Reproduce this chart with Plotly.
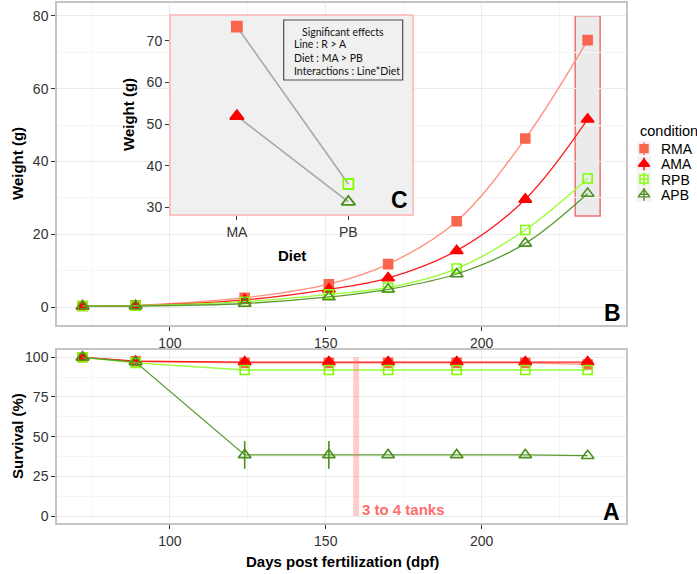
import plotly.graph_objects as go

# ---------------- data ----------------
days = [72, 89, 124, 151, 170, 192, 214, 234]

weight_RMA = [0.3, 0.5, 2.6, 6.3, 11.8, 23.6, 46.3, 73.3]
weight_AMA = [0.2, 0.4, 2.0, 4.9, 8.0, 15.5, 29.6, 51.6]
weight_RPB = [0.3, 0.4, 1.5, 3.5, 5.4, 10.6, 21.2, 35.3]
weight_APB = [0.3, 0.3, 1.0, 2.8, 4.9, 9.1, 17.5, 31.2]

surv_RMA = [100, 97.5, 96.5, 96.5, 96.5, 96.5, 96.5, 95.5]
surv_AMA = [100, 97.5, 97, 97, 97, 97, 97, 97]
surv_RPB = [100, 96.5, 92, 92, 92, 92, 92, 92]
surv_APB = [100, 97, 38.5, 38.5, 38.5, 38.5, 38.5, 38]
surv_APB_err = [0, 0, 8.7, 8.7, 0, 0, 0, 0]

diets = ["MA", "PB"]
final_R = [73.4, 35.6]
final_A = [51.9, 31.3]

conditions = ["RMA", "AMA", "RPB", "APB"]
weight_tick_vals = [0, 20, 40, 60, 80]
surv_tick_vals = [0, 25, 50, 75, 100]
inset_tick_vals = [30, 40, 50, 60, 70]
effects_lines = ["Line : R > A", "Diet : MA > PB", "Interactions : Line*Diet"]

# ---------------- styles ----------------
W, H = 697, 574
FONT = "Liberation Sans, Arial, sans-serif"
marker_col = {"RMA": "#F9664E", "AMA": "#FF0000", "RPB": "#7FFF00", "APB": "#4B8F1D"}
line_col = {"RMA": "#FF8E7A", "AMA": "#FF1A1A", "RPB": "#95FF33", "APB": "#5A9A30"}
symbols = {"RMA": "square", "AMA": "triangle-up", "RPB": "square-open", "APB": "triangle-up-open"}
msize = {"RMA": 9, "AMA": 11, "RPB": 9, "APB": 11}
weights = {"RMA": weight_RMA, "AMA": weight_AMA, "RPB": weight_RPB, "APB": weight_APB}
survs = {"RMA": surv_RMA, "AMA": surv_AMA, "RPB": surv_RPB, "APB": surv_APB}


def px(x):
    return x / W


def py(y):
    return 1 - y / H


fig = go.Figure()

# top panel: weight growth curves
for c in conditions:
    fig.add_trace(go.Scatter(
        x=days, y=weights[c], name=c, mode="lines+markers",
        line=dict(color=line_col[c], width=1.3, shape="spline", smoothing=1.0),
        marker=dict(symbol=symbols[c], size=msize[c], color=marker_col[c],
                    line=dict(color=marker_col[c], width=1.6)),
        xaxis="x", yaxis="y",
    ))

# bottom panel: survival
for c in conditions:
    err = surv_APB_err if c == "APB" else [0] * len(days)
    fig.add_trace(go.Scatter(
        x=days, y=survs[c], name=c, mode="lines+markers",
        line=dict(color=line_col[c], width=1.3),
        marker=dict(symbol=symbols[c], size=msize[c], color=marker_col[c],
                    line=dict(color=marker_col[c], width=1.6)),
        error_y=dict(type="data", array=err, visible=True, color=marker_col[c],
                     thickness=1.6, width=0),
        xaxis="x2", yaxis="y2",
    ))

# inset: final weights by diet
for c_ma, c_pb, vals in [("RMA", "RPB", final_R), ("AMA", "APB", final_A)]:
    fig.add_trace(go.Scatter(
        x=diets, y=vals, mode="lines", line=dict(color="#A8A8A8", width=1.6),
        xaxis="x3", yaxis="y3", hoverinfo="skip",
    ))
    for i, c in enumerate([c_ma, c_pb]):
        fig.add_trace(go.Scatter(
            x=[diets[i]], y=[vals[i]], mode="markers", name=c,
            marker=dict(symbol=symbols[c], size=msize[c] + 1, color=marker_col[c],
                        line=dict(color=marker_col[c], width=1.8)),
            xaxis="x3", yaxis="y3",
        ))

# legend keys (ggplot-style pointrange glyphs)
key_rows = list(range(len(conditions)))[::-1]
for c, row in zip(conditions, key_rows):
    fig.add_trace(go.Scatter(
        x=[0.5], y=[row + 0.5], mode="markers", name=c,
        marker=dict(symbol=symbols[c], size=msize[c] - 1, color=marker_col[c],
                    line=dict(color=marker_col[c], width=1.4)),
        error_y=dict(type="constant", value=0.42, color=marker_col[c], thickness=1.4, width=0),
        error_x=dict(type="constant", value=0.3, color=marker_col[c], thickness=1.4, width=0),
        xaxis="x4", yaxis="y4", hoverinfo="skip",
    ))

grid_col = "#EBEBEB"
minor_grid = "#F5F5F5"
border_col = "#C4C4C4"
tick_font = dict(family=FONT, size=14, color="#333333")

INSET_X = [-0.6, 1.58]
INSET_Y = [28.15, 76.2]

common_x = dict(range=[63.8, 246.3], tickvals=[100, 150, 200], showgrid=True, gridcolor=grid_col,
                gridwidth=1, minor=dict(tickvals=[75, 125, 175, 225], showgrid=True, gridcolor=minor_grid),
                ticks="outside", ticklen=4, tickcolor="#333333", showline=True, mirror=True,
                linecolor=border_col, linewidth=1.5, zeroline=False, tickfont=tick_font)

fig.update_layout(
    width=W, height=H, margin=dict(l=0, r=0, t=0, b=0, autoexpand=False),
    paper_bgcolor="white", plot_bgcolor="rgba(0,0,0,0)",
    font=dict(family=FONT, color="#000000"),
    showlegend=False,
    xaxis=dict(domain=[px(57), px(626)], anchor="y", **common_x),
    yaxis=dict(domain=[py(325), py(3)], anchor="x", range=[-4.9, 83.5], tickvals=weight_tick_vals,
               showgrid=True, gridcolor=grid_col,
               minor=dict(tickvals=[10, 30, 50, 70], showgrid=True, gridcolor=minor_grid),
               ticks="outside", ticklen=4, tickcolor="#333333", showline=True, mirror=True,
               linecolor=border_col, linewidth=1.5, zeroline=False, tickfont=tick_font),
    xaxis2=dict(domain=[px(57), px(626)], anchor="y2", **common_x),
    yaxis2=dict(domain=[py(523), py(350)], anchor="x2", range=[-4.4, 104.6], tickvals=surv_tick_vals,
                showgrid=True, gridcolor=grid_col,
                minor=dict(tickvals=[12.5, 37.5, 62.5, 87.5], showgrid=True, gridcolor=minor_grid),
                ticks="outside", ticklen=4, tickcolor="#333333", showline=True, mirror=True,
                linecolor=border_col, linewidth=1.5, zeroline=False, tickfont=tick_font),
    xaxis3=dict(domain=[px(170), px(413)], anchor="y3", range=INSET_X, type="category",
                showgrid=False, ticks="outside", ticklen=4, tickcolor="#333333", showline=False,
                zeroline=False, tickfont=tick_font),
    yaxis3=dict(domain=[py(215), py(15)], anchor="x3", range=INSET_Y, tickvals=inset_tick_vals,
                showgrid=False, ticks="outside", ticklen=4, tickcolor="#333333", showline=False,
                zeroline=False, tickfont=tick_font),
    xaxis4=dict(domain=[px(636.5), px(651.5)], anchor="y4", range=[0, 1], visible=False),
    yaxis4=dict(domain=[py(202), py(141)], anchor="x4", range=[0, 4], visible=False),
)

shapes = [
    # highlighted final timepoint
    dict(type="rect", xref="x", yref="y", x0=230, x1=238, y0=25, y1=80, layer="below",
         fillcolor="#EBEBEB", line=dict(color="#F07070", width=1.5)),
    # inset background fill
    dict(type="rect", xref="x3", yref="y3", x0=INSET_X[0], x1=INSET_X[1], y0=INSET_Y[0], y1=INSET_Y[1],
         layer="below", fillcolor="#F0F0F0", line=dict(width=0)),
    # inset border
    dict(type="rect", xref="paper", yref="paper", x0=px(170), x1=px(413), y0=py(215), y1=py(15),
         layer="above", fillcolor="rgba(0,0,0,0)", line=dict(color="#FFB3B3", width=1.5)),
    # significant effects box
    dict(type="rect", xref="paper", yref="paper", x0=px(283.7), x1=px(402.7), y0=py(80), y1=py(20),
         layer="above", fillcolor="rgba(0,0,0,0)", line=dict(color="#4D4D4D", width=1.2)),
    # tank change marker
    dict(type="rect", xref="x2", yref="y2", x0=158.8, x1=160.7, y0=0, y1=100, layer="above",
         fillcolor="rgba(255,120,120,0.38)", line=dict(width=0)),
]
for row in key_rows:
    shapes.append(dict(type="rect", xref="x4", yref="y4", x0=0.04, x1=0.96, y0=row + 0.04, y1=row + 0.96,
                       layer="below", fillcolor="#F2F2F2", line=dict(width=0)))
fig.update_layout(shapes=shapes)

ann = []
title_font = dict(family=FONT, size=15, color="#000000")


def label(text, x, y, angle=0, font=title_font, xa="center", ya="middle"):
    ann.append(dict(text=text, x=px(x), y=py(y), xref="paper", yref="paper", textangle=angle,
                    xanchor=xa, yanchor=ya, showarrow=False, font=font))


label("<b>Weight (g)</b>", 17, 164, -90)
label("<b>Survival (%)</b>", 17, 436, -90)
label("<b>Days post fertilization (dpf)</b>", 342, 561)
label("<b>Weight (g)</b>", 128, 115, -90)
label("<b>Diet</b>", 292, 255)
for letter, (lx, ly) in {"C": (399, 200), "B": (612, 313), "A": (611, 512)}.items():
    label(f"<b>{letter}</b>", lx, ly, font=dict(family=FONT, size=23, color="#000000"))
ann.append(dict(text="<b>3 to 4 tanks</b>", x=161.0, y=4.3, xref="x2", yref="y2", xanchor="left",
                yanchor="middle", showarrow=False, font=dict(family=FONT, size=15, color="#FF6B6B")))
box_font = dict(family="Lato, Open Sans, sans-serif", size=10.5, color="#111111")
label("Significant effects", 343, 31.5, font=box_font)
for i, t in enumerate(effects_lines):
    label(t, 292, 44.5 + 13 * i, font=box_font, xa="left")
# legend title and labels
leg_font = dict(family=FONT, size=14, color="#000000")
label("condition", 638, 131.5, font=dict(family=FONT, size=14.5, color="#000000"), xa="left")
for i, c in enumerate(conditions):
    label(c, 659, 149 + 15.3 * i, font=leg_font, xa="left")
fig.update_layout(annotations=ann)

fig.write_html("out.html", config={"displayModeBar": False},
               post_script="document.body.style.margin='0px';document.body.style.overflow='hidden';")
